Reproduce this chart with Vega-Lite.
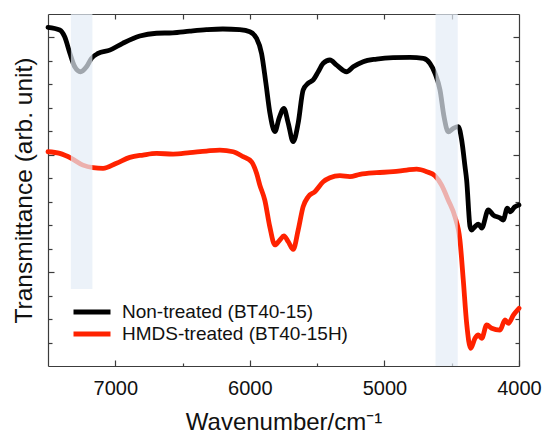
{
  "$schema": "https://vega.github.io/schema/vega-lite/v6.json",
  "width": 471,
  "height": 352,
  "autosize": {"type": "none"},
  "padding": {"left": 48, "top": 14, "right": 25, "bottom": 67},
  "config": {
    "view": {"stroke": null},
    "font": "Liberation Sans",
    "axis": {"grid": false, "domainColor": "#3c3c3c", "tickColor": "#3c3c3c", "domainWidth": 1.2, "tickWidth": 1.2}
  },
  "datasets": {
    "spectra": [
      {"wavenumber": 7500, "transmittance": 14.43, "sample": "Non-treated (BT40-15)"},
      {"wavenumber": 7413, "transmittance": 14.32, "sample": "Non-treated (BT40-15)"},
      {"wavenumber": 7376, "transmittance": 14.03, "sample": "Non-treated (BT40-15)"},
      {"wavenumber": 7338, "transmittance": 13.34, "sample": "Non-treated (BT40-15)"},
      {"wavenumber": 7301, "transmittance": 12.75, "sample": "Non-treated (BT40-15)"},
      {"wavenumber": 7259, "transmittance": 12.54, "sample": "Non-treated (BT40-15)"},
      {"wavenumber": 7214, "transmittance": 12.75, "sample": "Non-treated (BT40-15)"},
      {"wavenumber": 7177, "transmittance": 13.11, "sample": "Non-treated (BT40-15)"},
      {"wavenumber": 7128, "transmittance": 13.32, "sample": "Non-treated (BT40-15)"},
      {"wavenumber": 7041, "transmittance": 13.46, "sample": "Non-treated (BT40-15)"},
      {"wavenumber": 6945, "transmittance": 13.75, "sample": "Non-treated (BT40-15)"},
      {"wavenumber": 6818, "transmittance": 14.06, "sample": "Non-treated (BT40-15)"},
      {"wavenumber": 6694, "transmittance": 14.18, "sample": "Non-treated (BT40-15)"},
      {"wavenumber": 6573, "transmittance": 14.20, "sample": "Non-treated (BT40-15)"},
      {"wavenumber": 6447, "transmittance": 14.27, "sample": "Non-treated (BT40-15)"},
      {"wavenumber": 6322, "transmittance": 14.33, "sample": "Non-treated (BT40-15)"},
      {"wavenumber": 6201, "transmittance": 14.36, "sample": "Non-treated (BT40-15)"},
      {"wavenumber": 6075, "transmittance": 14.33, "sample": "Non-treated (BT40-15)"},
      {"wavenumber": 6000, "transmittance": 14.24, "sample": "Non-treated (BT40-15)"},
      {"wavenumber": 5950, "transmittance": 13.96, "sample": "Non-treated (BT40-15)"},
      {"wavenumber": 5913, "transmittance": 13.32, "sample": "Non-treated (BT40-15)"},
      {"wavenumber": 5881, "transmittance": 12.06, "sample": "Non-treated (BT40-15)"},
      {"wavenumber": 5851, "transmittance": 10.78, "sample": "Non-treated (BT40-15)"},
      {"wavenumber": 5814, "transmittance": 9.99, "sample": "Non-treated (BT40-15)"},
      {"wavenumber": 5782, "transmittance": 10.57, "sample": "Non-treated (BT40-15)"},
      {"wavenumber": 5747, "transmittance": 10.98, "sample": "Non-treated (BT40-15)"},
      {"wavenumber": 5715, "transmittance": 10.35, "sample": "Non-treated (BT40-15)"},
      {"wavenumber": 5678, "transmittance": 9.56, "sample": "Non-treated (BT40-15)"},
      {"wavenumber": 5641, "transmittance": 10.35, "sample": "Non-treated (BT40-15)"},
      {"wavenumber": 5604, "transmittance": 11.76, "sample": "Non-treated (BT40-15)"},
      {"wavenumber": 5567, "transmittance": 12.05, "sample": "Non-treated (BT40-15)"},
      {"wavenumber": 5529, "transmittance": 12.19, "sample": "Non-treated (BT40-15)"},
      {"wavenumber": 5492, "transmittance": 12.54, "sample": "Non-treated (BT40-15)"},
      {"wavenumber": 5455, "transmittance": 12.90, "sample": "Non-treated (BT40-15)"},
      {"wavenumber": 5405, "transmittance": 13.04, "sample": "Non-treated (BT40-15)"},
      {"wavenumber": 5355, "transmittance": 12.82, "sample": "Non-treated (BT40-15)"},
      {"wavenumber": 5281, "transmittance": 12.54, "sample": "Non-treated (BT40-15)"},
      {"wavenumber": 5232, "transmittance": 12.75, "sample": "Non-treated (BT40-15)"},
      {"wavenumber": 5158, "transmittance": 12.97, "sample": "Non-treated (BT40-15)"},
      {"wavenumber": 5058, "transmittance": 13.08, "sample": "Non-treated (BT40-15)"},
      {"wavenumber": 4935, "transmittance": 13.14, "sample": "Non-treated (BT40-15)"},
      {"wavenumber": 4810, "transmittance": 13.15, "sample": "Non-treated (BT40-15)"},
      {"wavenumber": 4711, "transmittance": 13.11, "sample": "Non-treated (BT40-15)"},
      {"wavenumber": 4662, "transmittance": 12.90, "sample": "Non-treated (BT40-15)"},
      {"wavenumber": 4624, "transmittance": 12.47, "sample": "Non-treated (BT40-15)"},
      {"wavenumber": 4587, "transmittance": 11.76, "sample": "Non-treated (BT40-15)"},
      {"wavenumber": 4557, "transmittance": 10.62, "sample": "Non-treated (BT40-15)"},
      {"wavenumber": 4526, "transmittance": 9.98, "sample": "Non-treated (BT40-15)"},
      {"wavenumber": 4488, "transmittance": 10.13, "sample": "Non-treated (BT40-15)"},
      {"wavenumber": 4451, "transmittance": 10.20, "sample": "Non-treated (BT40-15)"},
      {"wavenumber": 4426, "transmittance": 9.63, "sample": "Non-treated (BT40-15)"},
      {"wavenumber": 4401, "transmittance": 8.49, "sample": "Non-treated (BT40-15)"},
      {"wavenumber": 4389, "transmittance": 7.92, "sample": "Non-treated (BT40-15)"},
      {"wavenumber": 4364, "transmittance": 5.94, "sample": "Non-treated (BT40-15)"},
      {"wavenumber": 4353, "transmittance": 5.79, "sample": "Non-treated (BT40-15)"},
      {"wavenumber": 4327, "transmittance": 5.94, "sample": "Non-treated (BT40-15)"},
      {"wavenumber": 4302, "transmittance": 6.05, "sample": "Non-treated (BT40-15)"},
      {"wavenumber": 4277, "transmittance": 5.88, "sample": "Non-treated (BT40-15)"},
      {"wavenumber": 4228, "transmittance": 6.65, "sample": "Non-treated (BT40-15)"},
      {"wavenumber": 4191, "transmittance": 6.43, "sample": "Non-treated (BT40-15)"},
      {"wavenumber": 4141, "transmittance": 6.31, "sample": "Non-treated (BT40-15)"},
      {"wavenumber": 4117, "transmittance": 6.22, "sample": "Non-treated (BT40-15)"},
      {"wavenumber": 4087, "transmittance": 6.73, "sample": "Non-treated (BT40-15)"},
      {"wavenumber": 4067, "transmittance": 6.57, "sample": "Non-treated (BT40-15)"},
      {"wavenumber": 4030, "transmittance": 6.79, "sample": "Non-treated (BT40-15)"},
      {"wavenumber": 4000, "transmittance": 6.86, "sample": "Non-treated (BT40-15)"},
      {"wavenumber": 7500, "transmittance": 9.13, "sample": "HMDS-treated (BT40-15H)"},
      {"wavenumber": 7413, "transmittance": 9.06, "sample": "HMDS-treated (BT40-15H)"},
      {"wavenumber": 7326, "transmittance": 8.85, "sample": "HMDS-treated (BT40-15H)"},
      {"wavenumber": 7240, "transmittance": 8.56, "sample": "HMDS-treated (BT40-15H)"},
      {"wavenumber": 7165, "transmittance": 8.45, "sample": "HMDS-treated (BT40-15H)"},
      {"wavenumber": 7091, "transmittance": 8.42, "sample": "HMDS-treated (BT40-15H)"},
      {"wavenumber": 6991, "transmittance": 8.64, "sample": "HMDS-treated (BT40-15H)"},
      {"wavenumber": 6892, "transmittance": 8.89, "sample": "HMDS-treated (BT40-15H)"},
      {"wavenumber": 6794, "transmittance": 8.99, "sample": "HMDS-treated (BT40-15H)"},
      {"wavenumber": 6694, "transmittance": 9.06, "sample": "HMDS-treated (BT40-15H)"},
      {"wavenumber": 6571, "transmittance": 9.03, "sample": "HMDS-treated (BT40-15H)"},
      {"wavenumber": 6446, "transmittance": 9.09, "sample": "HMDS-treated (BT40-15H)"},
      {"wavenumber": 6322, "transmittance": 9.16, "sample": "HMDS-treated (BT40-15H)"},
      {"wavenumber": 6223, "transmittance": 9.20, "sample": "HMDS-treated (BT40-15H)"},
      {"wavenumber": 6124, "transmittance": 9.13, "sample": "HMDS-treated (BT40-15H)"},
      {"wavenumber": 6050, "transmittance": 8.92, "sample": "HMDS-treated (BT40-15H)"},
      {"wavenumber": 5988, "transmittance": 8.70, "sample": "HMDS-treated (BT40-15H)"},
      {"wavenumber": 5950, "transmittance": 8.21, "sample": "HMDS-treated (BT40-15H)"},
      {"wavenumber": 5926, "transmittance": 7.71, "sample": "HMDS-treated (BT40-15H)"},
      {"wavenumber": 5889, "transmittance": 7.07, "sample": "HMDS-treated (BT40-15H)"},
      {"wavenumber": 5852, "transmittance": 5.94, "sample": "HMDS-treated (BT40-15H)"},
      {"wavenumber": 5814, "transmittance": 5.16, "sample": "HMDS-treated (BT40-15H)"},
      {"wavenumber": 5777, "transmittance": 5.37, "sample": "HMDS-treated (BT40-15H)"},
      {"wavenumber": 5747, "transmittance": 5.54, "sample": "HMDS-treated (BT40-15H)"},
      {"wavenumber": 5715, "transmittance": 5.30, "sample": "HMDS-treated (BT40-15H)"},
      {"wavenumber": 5678, "transmittance": 4.97, "sample": "HMDS-treated (BT40-15H)"},
      {"wavenumber": 5641, "transmittance": 5.79, "sample": "HMDS-treated (BT40-15H)"},
      {"wavenumber": 5604, "transmittance": 6.79, "sample": "HMDS-treated (BT40-15H)"},
      {"wavenumber": 5567, "transmittance": 7.21, "sample": "HMDS-treated (BT40-15H)"},
      {"wavenumber": 5517, "transmittance": 7.43, "sample": "HMDS-treated (BT40-15H)"},
      {"wavenumber": 5455, "transmittance": 7.85, "sample": "HMDS-treated (BT40-15H)"},
      {"wavenumber": 5405, "transmittance": 8.02, "sample": "HMDS-treated (BT40-15H)"},
      {"wavenumber": 5331, "transmittance": 8.11, "sample": "HMDS-treated (BT40-15H)"},
      {"wavenumber": 5257, "transmittance": 8.07, "sample": "HMDS-treated (BT40-15H)"},
      {"wavenumber": 5182, "transmittance": 8.17, "sample": "HMDS-treated (BT40-15H)"},
      {"wavenumber": 5058, "transmittance": 8.24, "sample": "HMDS-treated (BT40-15H)"},
      {"wavenumber": 4935, "transmittance": 8.28, "sample": "HMDS-treated (BT40-15H)"},
      {"wavenumber": 4835, "transmittance": 8.35, "sample": "HMDS-treated (BT40-15H)"},
      {"wavenumber": 4761, "transmittance": 8.39, "sample": "HMDS-treated (BT40-15H)"},
      {"wavenumber": 4686, "transmittance": 8.28, "sample": "HMDS-treated (BT40-15H)"},
      {"wavenumber": 4624, "transmittance": 8.10, "sample": "HMDS-treated (BT40-15H)"},
      {"wavenumber": 4575, "transmittance": 7.71, "sample": "HMDS-treated (BT40-15H)"},
      {"wavenumber": 4526, "transmittance": 7.07, "sample": "HMDS-treated (BT40-15H)"},
      {"wavenumber": 4476, "transmittance": 6.36, "sample": "HMDS-treated (BT40-15H)"},
      {"wavenumber": 4439, "transmittance": 5.37, "sample": "HMDS-treated (BT40-15H)"},
      {"wavenumber": 4414, "transmittance": 3.66, "sample": "HMDS-treated (BT40-15H)"},
      {"wavenumber": 4389, "transmittance": 1.82, "sample": "HMDS-treated (BT40-15H)"},
      {"wavenumber": 4359, "transmittance": 0.75, "sample": "HMDS-treated (BT40-15H)"},
      {"wavenumber": 4327, "transmittance": 1.18, "sample": "HMDS-treated (BT40-15H)"},
      {"wavenumber": 4302, "transmittance": 1.32, "sample": "HMDS-treated (BT40-15H)"},
      {"wavenumber": 4277, "transmittance": 1.18, "sample": "HMDS-treated (BT40-15H)"},
      {"wavenumber": 4240, "transmittance": 1.75, "sample": "HMDS-treated (BT40-15H)"},
      {"wavenumber": 4203, "transmittance": 1.61, "sample": "HMDS-treated (BT40-15H)"},
      {"wavenumber": 4141, "transmittance": 1.53, "sample": "HMDS-treated (BT40-15H)"},
      {"wavenumber": 4104, "transmittance": 1.96, "sample": "HMDS-treated (BT40-15H)"},
      {"wavenumber": 4079, "transmittance": 1.82, "sample": "HMDS-treated (BT40-15H)"},
      {"wavenumber": 4042, "transmittance": 2.17, "sample": "HMDS-treated (BT40-15H)"},
      {"wavenumber": 4000, "transmittance": 2.46, "sample": "HMDS-treated (BT40-15H)"}
    ],
    "bands": [
      {"start": 7330, "end": 7170, "low": 3.28, "high": 15},
      {"start": 4620, "end": 4455, "low": 0, "high": 15}
    ]
  },
  "layer": [
    {
      "data": {"name": "spectra"},
      "mark": {"type": "line", "strokeWidth": 4.8, "interpolate": "monotone", "strokeCap": "round", "strokeJoin": "round"},
      "encoding": {
        "x": {
          "field": "wavenumber", "type": "quantitative",
          "scale": {"domain": [4000, 7500], "reverse": true, "nice": false, "zero": false},
          "axis": {
            "orient": "bottom",
            "values": [7000, 6500, 6000, 5500, 5000, 4500, 4000],
            "labelExpr": "datum.value % 1000 === 0 ? datum.value : ''",
            "tickSize": {"condition": {"test": "datum.value % 1000 === 0", "value": -6}, "value": -3},
            "labelPadding": 18,
            "labelFontSize": 20,
            "labelColor": "#111",
            "labelFlush": false,
            "labelOverlap": false,
            "title": "Wavenumber/cm⁻¹",
            "titleFontSize": 24,
            "titleFontWeight": "normal",
            "titleColor": "#111",
            "titlePadding": 9
          }
        },
        "y": {
          "field": "transmittance", "type": "quantitative",
          "scale": {"domain": [0, 15], "nice": false, "zero": false},
          "axis": {
            "orient": "left",
            "values": [1, 2, 3, 4, 5, 6, 7, 8, 9, 10, 11, 12, 13, 14],
            "labels": false,
            "tickSize": {"condition": {"test": "datum.value % 5 === 4", "value": -6}, "value": -4},
            "title": "Transmittance (arb. unit)",
            "titleFontSize": 24.5,
            "titleFontWeight": "normal",
            "titleColor": "#111",
            "titlePadding": 11
          }
        },
        "color": {
          "field": "sample", "type": "nominal",
          "scale": {"domain": ["Non-treated (BT40-15)", "HMDS-treated (BT40-15H)"], "range": ["#000000", "#ff2200"]},
          "legend": {
            "orient": "none",
            "legendX": 32,
            "legendY": 286,
            "title": null,
            "symbolType": "M-2,0H2",
            "symbolSize": 342,
            "symbolStrokeWidth": 5,
            "labelFontSize": 19,
            "labelColor": "#111",
            "labelOffset": 18,
            "labelLimit": 400,
            "padding": 0,
            "rowPadding": 0
          }
        }
      }
    },
    {
      "data": {"name": "bands"},
      "mark": {"type": "rect", "fill": "#e4ecf6", "opacity": 0.7},
      "encoding": {
        "x": {
          "field": "start", "type": "quantitative",
          "axis": {"orient": "top", "values": [7000, 6500, 6000, 5500, 5000, 4500], "labels": false, "title": null, "tickSize": -5}
        },
        "x2": {"field": "end"},
        "y": {
          "field": "low", "type": "quantitative",
          "axis": {"orient": "right", "values": [1, 2, 3, 4, 5, 6, 7, 8, 9, 10, 11, 12, 13, 14], "labels": false, "title": null,
                   "tickSize": {"condition": {"test": "datum.value % 5 === 4", "value": -6}, "value": -4}}
        },
        "y2": {"field": "high"}
      }
    }
  ],
  "resolve": {"axis": {"x": "independent", "y": "independent"}}
}
